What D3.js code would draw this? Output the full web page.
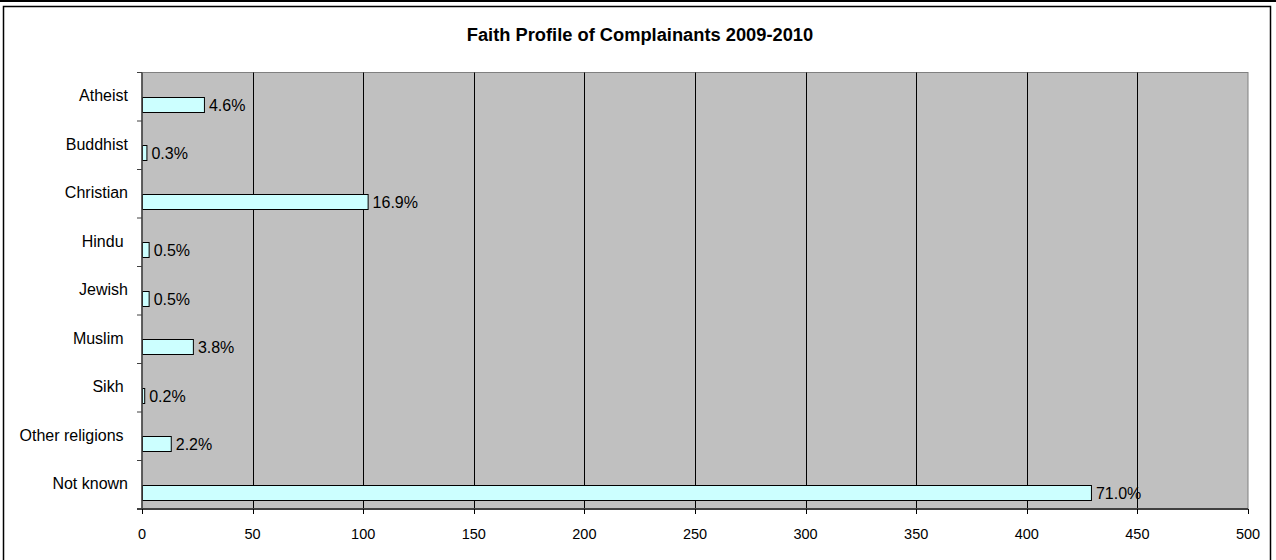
<!DOCTYPE html>
<html>
<head>
<meta charset="utf-8">
<script src="https://d3js.org/d3.v7.min.js"></script>
<style>
  body { margin: 0; background: #fff; }
  text { font-family: "Liberation Sans", Arial, sans-serif; white-space: pre; }
</style>
</head>
<body>
<div id="chart"></div>
<script>
// data (some labels carry a trailing space, as in the source sheet)
var faiths = ["Atheist", "Buddhist", "Christian", "Hindu ", "Jewish", "Muslim ", "Sikh ", "Other religions ", "Not known"]
var counts = [28, 2, 102, 3, 3, 23, 1, 13, 429]
var shares = ["4.6%", "0.3%", "16.9%", "0.5%", "0.5%", "3.8%", "0.2%", "2.2%", "71.0%"]
var xTicks = [0, 50, 100, 150, 200, 250, 300, 350, 400, 450, 500]
var title = "Faith Profile of Complainants 2009-2010"

var W = 1276, H = 560
var plotL = 142, plotR = 1248, plotT = 72.5, plotB = 509

var svg = d3.select("#chart").append("svg")
  .attr("width", W)
  .attr("height", H)

// outer frame
svg.append("line")
  .attr("x1", 0).attr("x2", W).attr("y1", 1).attr("y2", 1)
  .attr("stroke", "#000").attr("stroke-width", 2)
svg.append("rect")
  .attr("x", 3.5).attr("y", 6.5)
  .attr("width", 1267).attr("height", 560)
  .attr("fill", "none").attr("stroke", "#000").attr("stroke-width", 1.5)

svg.append("text")
  .attr("x", 640).attr("y", 34)
  .attr("text-anchor", "middle")
  .attr("dominant-baseline", "central")
  .style("font-size", "18.3px")
  .style("font-weight", "bold")
  .text(title)

var x = d3.scaleLinear().domain([0, 500]).range([plotL, plotR])
var y = d3.scaleBand().domain(faiths).range([plotT, plotB])

// plot background
svg.append("rect")
  .attr("x", plotL).attr("y", plotT)
  .attr("width", plotR - plotL).attr("height", plotB - plotT)
  .attr("fill", "#c0c0c0")
  .attr("stroke", "#808080")

// gridlines
svg.selectAll(".grid")
  .data(xTicks.slice(1, -1))
  .enter().append("line")
  .attr("x1", function(d) { return Math.round(x(d)) + 0.5 })
  .attr("x2", function(d) { return Math.round(x(d)) + 0.5 })
  .attr("y1", plotT).attr("y2", plotB)
  .attr("stroke", "#000")

// bars start at the middle of each band
var barH = 15
svg.selectAll(".bar")
  .data(faiths)
  .enter().append("rect")
  .attr("x", plotL + 0.5)
  .attr("y", function(d) { return Math.round(y(d) + y.bandwidth() / 2) + 0.5 })
  .attr("width", function(d, i) { return x(counts[i]) - plotL })
  .attr("height", barH)
  .attr("fill", "#ccffff")
  .attr("stroke", "#000")

svg.selectAll(".share")
  .data(faiths)
  .enter().append("text")
  .attr("x", function(d, i) { return x(counts[i]) + 5 })
  .attr("y", function(d) { return y(d) + y.bandwidth() / 2 + barH / 2 + 1 })
  .attr("dominant-baseline", "central")
  .style("font-size", "16px")
  .text(function(d, i) { return shares[i] })

// y axis
var yAxis = svg.append("g")
svg.append("line")
  .attr("x1", plotL).attr("x2", plotL).attr("y1", plotT).attr("y2", plotB)
  .attr("stroke", "#404040").attr("stroke-width", 1.5)
yAxis.selectAll(".ytick")
  .data(d3.range(faiths.length + 1))
  .enter().append("line")
  .attr("x1", plotL - 5).attr("x2", plotL)
  .attr("y1", function(i) { return plotT + i * y.step() })
  .attr("y2", function(i) { return plotT + i * y.step() })
  .attr("stroke", "#404040")
yAxis.selectAll(".ylab")
  .data(faiths)
  .enter().append("text")
  .attr("x", 128)
  .attr("y", function(d) { return y(d) + y.bandwidth() / 2 - 1 })
  .attr("text-anchor", "end")
  .attr("dominant-baseline", "central")
  .style("font-size", "16px")
  .text(function(d) { return d })

// x axis
svg.append("line")
  .attr("x1", plotL - 5).attr("x2", plotR).attr("y1", plotB).attr("y2", plotB)
  .attr("stroke", "#404040").attr("stroke-width", 2)
svg.selectAll(".xtick")
  .data(xTicks)
  .enter().append("line")
  .attr("x1", function(d) { return Math.round(x(d)) + 0.5 })
  .attr("x2", function(d) { return Math.round(x(d)) + 0.5 })
  .attr("y1", plotB).attr("y2", plotB + 5)
  .attr("stroke", "#000")
svg.selectAll(".xlab")
  .data(xTicks)
  .enter().append("text")
  .attr("x", function(d) { return x(d) })
  .attr("y", 534)
  .attr("text-anchor", "middle")
  .attr("dominant-baseline", "central")
  .style("font-size", "14.5px")
  .text(function(d) { return d })
</script>
</body>
</html>
